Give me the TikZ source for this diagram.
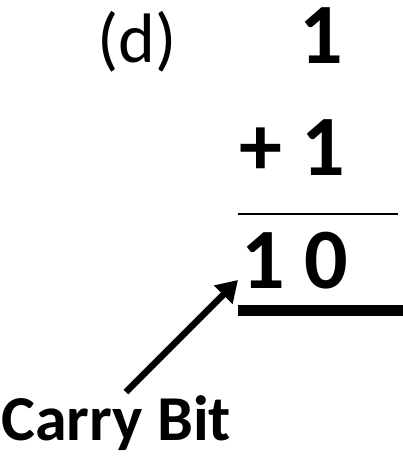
\documentclass[tikz,border=0pt]{standalone}
\usepackage{fontspec}
\setmainfont{Carlito}
\usetikzlibrary{positioning,arrows.meta,calc}
\tikzset{
  digit/.style={inner sep=0pt,anchor=base west,font=\fontsize{86}{86}\selectfont\bfseries},
  tag/.style={inner sep=0pt,anchor=base west,font=\fontsize{70}{70}\selectfont},
  note/.style={inner sep=0pt,anchor=base west,font=\fontsize{64}{64}\selectfont\bfseries}
}
\begin{document}
\begin{tikzpicture}[x=1pt,y=-1pt]
\useasboundingbox (0,0) rectangle (403,456);
% label
\node[tag] (lbl) at (97,62) {(d)};
% operands
\node[digit] (top) at (299,63) {1};
\node[digit] (plus) at (239,175) {+ 1};
\draw[line width=1.5pt] (238,214) -- (398,214);
% result
\node[digit] (sum) at (241,288) {1 0};
\draw[line width=11pt] (238,310.5) -- (403,310.5);
% carry arrow
\node[note] (carry) at (1,440) {Carry Bit};
\coordinate (tail) at (126,392);
\coordinate (tip) at (238,280);
\draw[line width=6.5pt,-{Triangle[length=21pt,width=25pt]}] (tail) -- (tip);
\end{tikzpicture}
\end{document}
